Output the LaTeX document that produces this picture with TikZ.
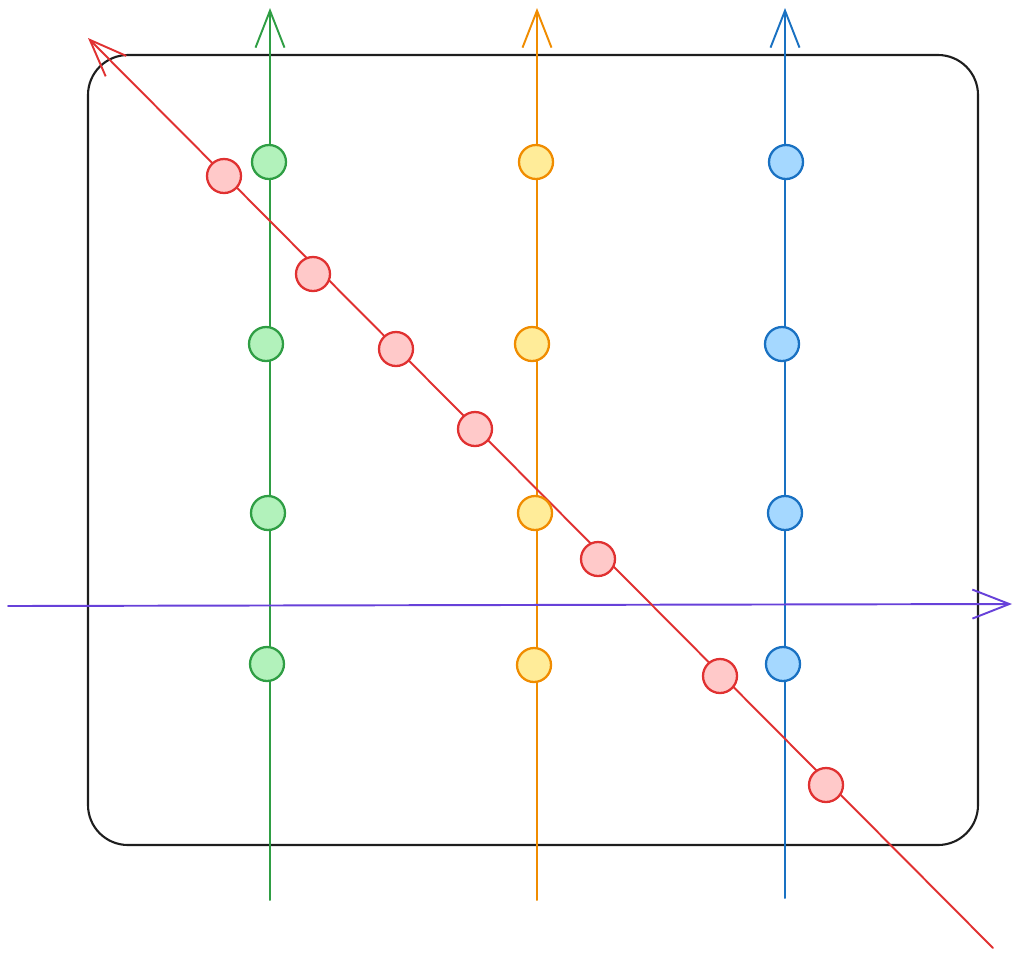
\documentclass[tikz,border=0pt]{standalone}
\usetikzlibrary{arrows.meta}
\definecolor{gS}{HTML}{2F9E44}\definecolor{gF}{HTML}{B2F2BB}
\definecolor{yS}{HTML}{F08C00}\definecolor{yF}{HTML}{FFEC99}
\definecolor{bS}{HTML}{1971C2}\definecolor{bF}{HTML}{A5D8FF}
\definecolor{rS}{HTML}{E03131}\definecolor{rF}{HTML}{FFC9C9}
\definecolor{pS}{HTML}{6741D9}
\definecolor{kS}{HTML}{1E1E1E}
\begin{document}
\begin{tikzpicture}[x=0.02cm,y=-0.02cm,line width=1.1pt,
  axis/.style={-{Straight Barb[length=0.74cm,width=0.58cm,line width=1.1pt]}, line cap=round},
  dot/.style={circle,draw,line width=1.3pt,minimum size=0.68cm,inner sep=0pt}]
\useasboundingbox (0,0) rectangle (1013,954);
% frame
\draw[kS,line width=1.2pt,rounded corners=0.8cm] (88,55) rectangle (978,845);
% line end points
\coordinate (g0) at (270,900); \coordinate (g1) at (270,8);
\coordinate (y0) at (537,900); \coordinate (y1) at (537,8);
\coordinate (b0) at (785,898); \coordinate (b1) at (785,8);
\coordinate (p0) at (8,606);  \coordinate (p1) at (1012,604);
\coordinate (r0) at (993,948); \coordinate (r1) at (88,38);
\draw[axis,gS] (g0) -- (g1);
\draw[axis,yS] (y0) -- (y1);
\draw[axis,bS] (b0) -- (b1);
\draw[axis,pS] (p0) -- (p1);
\draw[axis,rS] (r0) -- (r1);
% dots
\foreach \n/\x/\y in {1/269/162,2/266/344,3/268/513,4/267/664}
  \node[dot,draw=gS,fill=gF] (g\n d) at (\x,\y) {};
\foreach \n/\x/\y in {1/536/162,2/532/344,3/535/513,4/534/665}
  \node[dot,draw=yS,fill=yF] (y\n d) at (\x,\y) {};
\foreach \n/\x/\y in {1/786/162,2/782/344,3/785/513,4/783/664}
  \node[dot,draw=bS,fill=bF] (b\n d) at (\x,\y) {};
\foreach \n/\x/\y in {1/224/176,2/313/274,3/396/349,4/475/429,5/598/559,6/720/676,7/826/785}
  \node[dot,draw=rS,fill=rF] (r\n d) at (\x,\y) {};
\end{tikzpicture}
\end{document}
